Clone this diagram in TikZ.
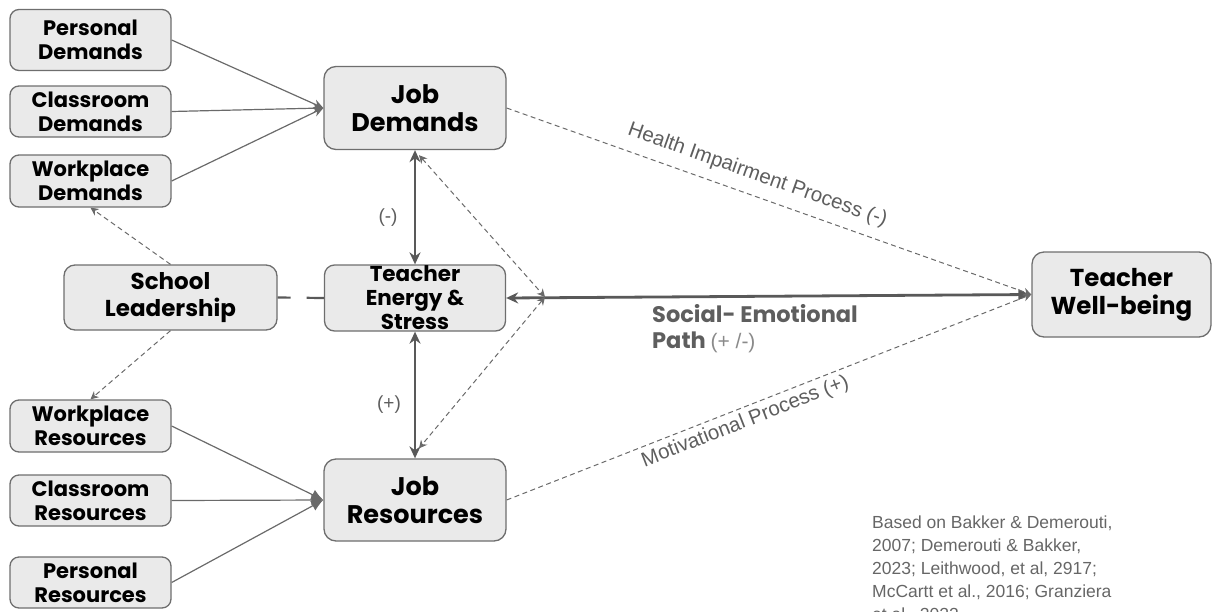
\documentclass[tikz,border=0pt]{standalone}
\usepackage{fontspec}
\setmainfont{Liberation Sans}
\newfontfamily\boxfont{Poppins}
\usetikzlibrary{shapes}
\usetikzlibrary{positioning}
\usetikzlibrary{arrows.meta}
\definecolor{boxfill}{HTML}{EAEAEA}
\definecolor{boxline}{HTML}{6E6E6E}
\definecolor{linegray}{HTML}{6A6A6A}
\definecolor{darkline}{HTML}{595959}
\definecolor{labelgray}{HTML}{5E5E5E}
\definecolor{lightlab}{HTML}{8A8A8A}
\definecolor{citegray}{HTML}{666666}
\tikzset{
    mynodes/.style = {rectangle, rounded corners=9pt, line width=1.3pt, draw=boxline, fill=boxfill, align=center, inner sep=0pt, minimum width=161pt, minimum height=52pt, font=\boxfont\bfseries\fontsize{21}{24}\selectfont, text=black},
    mynodej/.style = {mynodes, rounded corners=12pt, minimum width=182pt, minimum height=83pt, font=\boxfont\bfseries\fontsize{25.5}{28}\selectfont},
    mynodel/.style = {mynodes, rounded corners=11pt, minimum width=213pt, minimum height=65pt, font=\boxfont\bfseries\fontsize{23}{27}\selectfont},
    mynodet/.style = {mynodes, rounded corners=10pt, minimum width=181pt, minimum height=66pt, font=\boxfont\bfseries\fontsize{21.5}{24}\selectfont},
    edgen/.style = {-{Stealth[length=10pt,width=9pt]}, line width=1.2pt, linegray}, % demands
    edgenf/.style = {-{Latex[length=12pt,width=11pt]}, line width=1.2pt, linegray}, % resources
    edgek/.style = {{Stealth[length=12pt,width=11pt]}-{Stealth[length=12pt,width=11pt]}, line width=2.8pt, darkline},
    edgeh/.style = {{Stealth[length=12pt,width=11pt]}-{Latex[length=13pt,width=12pt]}, line width=2.8pt, darkline},
    edged/.style = {-{Stealth[length=8pt,width=8pt]}, line width=1pt, linegray, dash pattern=on 5pt off 3.5pt},
    edgedd/.style = {{Stealth[length=8pt,width=8pt]}-{Stealth[length=8pt,width=8pt]}, line width=1pt, linegray, dash pattern=on 5pt off 3.5pt},
    edgel/.style = {-, line width=2.2pt, darkline, dash pattern=on 13pt off 16pt on 30pt off 0pt},
    labn/.style = {font=\fontsize{20.5}{24}\selectfont, text=labelgray},
    labs/.style = {font=\fontsize{19}{22}\selectfont, text=labelgray}
}

\begin{document}
\begin{tikzpicture}[x=1pt,y=-1pt]
\useasboundingbox (0,0) rectangle (1213,611);

\node[mynodes, minimum height=61pt] at ( 90.5,  40.0) (pd) {Personal\\Demands};
\node[mynodes, minimum height=51pt] at ( 90.5, 111.5) (cd) {Classroom\\Demands};
\node[mynodes] at ( 90.5, 181.0) (wd) {Workplace\\Demands};
\node[mynodej] at (415.0, 108.0) (jd) {Job\\Demands};
\node[mynodel] at (170.5, 297.5) (sl) {School\\Leadership};
\node[mynodet] at (415.0, 298.0) (tes) {Teacher\\Energy \&\\Stress};
\node[mynodes] at ( 90.5, 426.0) (wr) {Workplace\\Resources};
\node[mynodes, minimum height=51pt] at ( 90.5, 500.5) (cr) {Classroom\\Resources};
\node[mynodes, minimum height=51pt] at ( 90.5, 582.5) (pr) {Personal\\Resources};
\node[mynodej, minimum height=82pt] at (415.0, 500.0) (jr) {Job\\Resources};
\node[mynodej, minimum width=179pt, minimum height=85pt, font=\boxfont\bfseries\fontsize{24.5}{28}\selectfont] at (1121.5, 294.5) (wb) {Teacher\\Well-being};
\coordinate (jn) at (545,297);

\draw[edgen] (pd.east) -- (jd.west);
\draw[edgen] (cd.east) -- (jd.west);
\draw[edgen] (wd.east) -- (jd.west);
\draw[edgenf] (wr.east) -- (jr.west);
\draw[edgenf] (cr.east) -- (jr.west);
\draw[edgenf] (pr.east) -- (jr.west);

\draw[edged] (sl.north) -- (wd.south);
\draw[edged] (sl.south) -- (wr.north);
\draw[edgel] (sl.east) -- (tes.west);

\draw[edgek] (jd) -- (tes);
\draw[edgek] (tes) -- (jr);
\draw[edgeh] (tes.east) -- (wb.west);
\draw[edgedd] ([xshift=4pt,yshift=-5pt]jd.south) -- (jn);
\draw[edgedd] (jn) -- ([xshift=4pt,yshift=10pt]jr.north);

\draw[edged] (jd.east) -- node[labn, pos=0.465, above=7pt, sloped] (hip) {Health Impairment Process (-)} (wb.west);
\draw[edged] (jr.east) -- node[labn, pos=0.445, below=1pt, sloped] (mp) {Motivational Process (+)} (wb.west);

\node[labs] at (388,218) (minus) {(-)};
\node[labs] at (389,405) (plus) {(+)};
\node[anchor=north west, align=left, inner sep=0pt, font=\boxfont\bfseries\fontsize{22.5}{26}\selectfont, text=labelgray] at (652,304) (sep) {Social- Emotional\\Path {\normalfont\fontsize{21}{26}\selectfont\color{lightlab}(+ /-)}};

\node[anchor=north west, align=left, inner sep=0pt, font=\fontsize{17.5}{23}\selectfont, text=citegray] at (872,516) (cite) {Based on Bakker \& Demerouti,\\2007; Demerouti \& Bakker,\\2023; Leithwood, et al, 2917;\\McCartt et al., 2016; Granziera\\et al., 2022};
\end{tikzpicture}
\end{document}
